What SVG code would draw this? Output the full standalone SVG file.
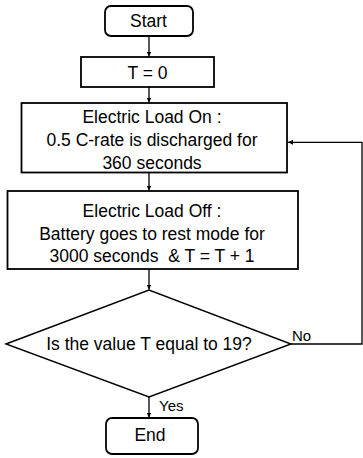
<svg xmlns="http://www.w3.org/2000/svg" width="363" height="458" viewBox="0 0 363 458">
<style>
.box{fill:#fff;stroke:#000;stroke-width:1.8}
.dia{fill:#fff;stroke:#000;stroke-width:1.4}
.t{font-family:"Liberation Sans",Arial,sans-serif;font-size:17.5px;fill:#000;text-anchor:middle}
.lbl{font-family:"Liberation Sans",Arial,sans-serif;font-size:15px;fill:#000}
.c{fill:none;stroke:#000;stroke-width:1.3}
</style>
<defs>
<marker id="ah" markerWidth="6" markerHeight="6" refX="5" refY="3" orient="auto" markerUnits="userSpaceOnUse">
<path d="M0,0.5 L5,3 L0,5.5 Z" fill="#000"/>
</marker>
</defs>
<rect width="363" height="458" fill="#fff"/>
<g id="connectors">
<line class="c" x1="149" y1="36" x2="149" y2="56.5" marker-end="url(#ah)"/>
<line class="c" x1="149" y1="87" x2="149" y2="102.5" marker-end="url(#ah)"/>
<line class="c" x1="149" y1="173" x2="149" y2="190.5" marker-end="url(#ah)"/>
<line class="c" x1="149" y1="269" x2="149" y2="289.5" marker-end="url(#ah)"/>
<line class="c" x1="149" y1="397" x2="149" y2="417.5" marker-end="url(#ah)"/>
<polyline class="c" points="291,344 362,344 362,142.3 288,142.3" marker-end="url(#ah)"/>
<text class="lbl" x="292" y="340.5">No</text>
<text class="lbl" x="159" y="411">Yes</text>
</g>
<g id="start">
<rect class="box" x="105" y="6" width="88" height="30" rx="6"/>
<text class="t" x="148.5" y="27.3">Start</text>
</g>
<g id="init">
<rect class="box" x="81" y="57" width="133" height="30"/>
<text class="t" x="147.5" y="78.5">T = 0</text>
</g>
<g id="loadon">
<rect class="box" x="21.5" y="103" width="265.5" height="69.5"/>
<text class="t" x="152" y="122.7">Electric Load On :</text>
<text class="t" x="152" y="146">0.5 C-rate is discharged for</text>
<text class="t" x="152" y="169.3">360 seconds</text>
</g>
<g id="loadoff">
<rect class="box" x="7.5" y="191" width="290.5" height="78"/>
<text class="t" x="152" y="216.7">Electric Load Off :</text>
<text class="t" x="152" y="240">Battery goes to rest mode for</text>
<text class="t" x="152" y="261.7" xml:space="preserve">3000 seconds  &amp; T = T + 1</text>
</g>
<g id="decision">
<polygon class="dia" points="6,344 149,290 291,344 149,397"/>
<text class="t" x="149" y="349.5">Is the value T equal to 19?</text>
</g>
<g id="end">
<rect class="box" x="106" y="418" width="92" height="36" rx="6"/>
<text class="t" x="150" y="440.5">End</text>
</g>
</svg>
